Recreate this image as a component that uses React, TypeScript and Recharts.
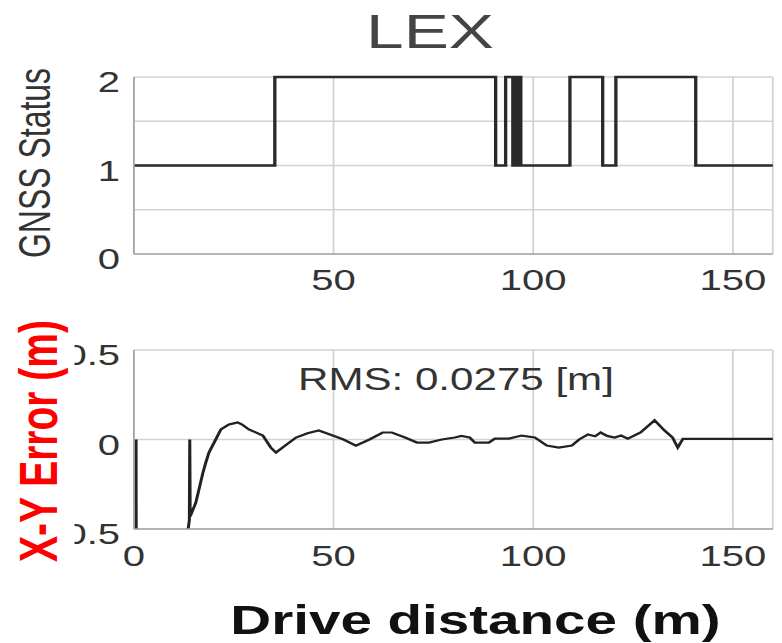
import { LineChart, Line, XAxis, YAxis, CartesianGrid } from 'recharts'

// the source figure is stretched sideways, so the chart is drawn narrow and widened
const SX = 1.38
const W = 567
const FONT = "'Liberation Sans', Arial, sans-serif"

// GNSS status (step changes)
const gnssDist = [0, 35.3, 90.6, 93.1, 94.9, 95.4, 95.9, 96.4, 96.9, 109.2, 117.4, 120.7, 140.7, 160]
const gnssStatus = [1, 2, 1, 2, 1, 2, 1, 2, 1, 2, 1, 2, 1, 1]

// X-Y error along the drive
const errDist = [
  0.55, 0.6, 13.0, 13.9, 14.0, 14.1, 15.5, 16.4, 17.3, 18.0, 18.8, 20.5, 21.8, 23.8, 25.0, 26.0, 27.0,
  28.8, 30.5, 32.3, 34.3, 35.6, 37.5, 40.6, 43.5, 46.3, 49.8, 52.5, 55.6, 59.0, 62.3, 64.6, 67.9, 70.9,
  73.9, 77.1, 80.4, 82.0, 84.1, 85.4, 88.9, 90.4, 93.9, 97.1, 100.4, 103.4, 106.4, 109.7, 111.5, 113.7,
  115.5, 116.9, 118.5, 120.4, 122.0, 123.7, 126.9, 130.4, 132.9, 134.9, 136.2, 137.5, 160,
]
const errValue = [
  0, -0.9, -0.6, -0.45, 0, -0.43, -0.354, -0.27, -0.185, -0.13, -0.073, 0, 0.056, 0.084, 0.09, 0.095,
  0.085, 0.056, 0.04, 0.022, -0.045, -0.073, -0.04, 0.011, 0.035, 0.05, 0.022, 0.0, -0.034, 0.0, 0.039,
  0.039, 0.011, -0.017, -0.017, 0, 0.011, 0.02, 0.011, -0.017, -0.017, 0.005, 0.005, 0.022, 0.011,
  -0.034, -0.045, -0.034, 0.0, 0.028, 0.018, 0.039, 0.02, 0.011, 0.022, 0.005, 0.039, 0.107, 0.05,
  0.011, -0.045, 0.004, 0.004,
]

const gnssTicksY = [0, 0.5, 1, 1.5, 2]
const gnssTicksX = [50, 100, 150]
const errTicksY = [-0.5, 0, 0.5]
const errTicksX = [0, 50, 100, 150]

const gnssData = gnssDist.map((d, i) => ({ d, status: gnssStatus[i] }))
const errData = errDist.map((d, i) => ({ d, err: errValue[i] }))

const GRID = '#d2d2d2'
const AXIS = { stroke: '#a6a6a6', strokeWidth: 1.3 }

const XTick = ({ x, y, payload, shift }: any) => (
  <text x={x} y={y + shift} textAnchor="middle" fontSize={29} fill="#333" fontFamily={FONT}>
    {payload.value}
  </text>
)

const YTick = ({ x, y, payload }: any) => (
  <text x={x - 10} y={y + 15.5} textAnchor="end" fontSize={29} fill="#333" fontFamily={FONT}>
    {payload.value}
  </text>
)

// only whole numbers get a label on the status axis
const GnssYTick = (p: any) => (Number.isInteger(p.payload.value) ? <YTick {...p} /> : null)

export default function App() {
  return (
    <div style={{ position: 'absolute', left: 0, top: 0, width: 782, height: 643, background: '#fff', overflow: 'hidden' }}>
      <div style={{ position: 'absolute', left: 0, top: 0, width: W, height: 643, transform: `scaleX(${SX})`, transformOrigin: '0 0' }}>
        <div style={{ position: 'absolute', left: 0, top: 0 }}>
          <LineChart width={W} height={300} data={gnssData} margin={{ top: 77, right: 7, bottom: 16, left: 0 }}>
            <CartesianGrid stroke={GRID} strokeWidth={1.3} />
            <XAxis dataKey="d" type="number" domain={[0, 160]} ticks={gnssTicksX} height={30}
              axisLine={AXIS} tickLine={false} tickSize={0} tickMargin={0} tick={<XTick shift={36} />} />
            <YAxis type="number" domain={[0, 2]} ticks={gnssTicksY} width={97}
              axisLine={AXIS} tickLine={false} tickSize={0} tickMargin={0} tick={<GnssYTick />} />
            <Line type="stepAfter" dataKey="status" stroke="#2a2a2a" strokeWidth={2.4} dot={false} activeDot={false} isAnimationActive={false} />
          </LineChart>
        </div>
        <div style={{ position: 'absolute', left: 0, top: 300 }}>
          <LineChart width={W} height={343} data={errData} margin={{ top: 50, right: 7, bottom: 84, left: 0 }}>
            <CartesianGrid stroke={GRID} strokeWidth={1.3} />
            <XAxis dataKey="d" type="number" domain={[0, 160]} ticks={errTicksX} height={30}
              axisLine={AXIS} tickLine={false} tickSize={0} tickMargin={0} tick={<XTick shift={37} />} />
            <YAxis type="number" domain={[-0.5, 0.5]} ticks={errTicksY} width={97} allowDataOverflow
              axisLine={AXIS} tickLine={false} tickSize={0} tickMargin={0} tick={<YTick />} />
            <Line type="linear" dataKey="err" stroke="#222" strokeWidth={2.2} dot={false} activeDot={false} isAnimationActive={false} />
          </LineChart>
        </div>
        <svg width={W} height={643} style={{ position: 'absolute', left: 0, top: 0, pointerEvents: 'none' }} fontFamily={FONT}>
          <text x={311.6} y={48} textAnchor="middle" fontSize={49} fill="#444">LEX</text>
          <text transform="translate(36,163) rotate(-90)" textAnchor="middle" fontSize={32} fill="#333">GNSS Status</text>
          <rect x={0} y={300} width={54} height={290} fill="#fff" />
          <text transform="translate(41,441) rotate(-90)" textAnchor="middle" fontSize={39} fontWeight="bold" fill="#ff0000">X-Y Error (m)</text>
          <text x={330.4} y={390} textAnchor="middle" fontSize={30.5} fill="#333">RMS: 0.0275 [m]</text>
          <text x={344.6} y={634} textAnchor="middle" fontSize={41} fontWeight="bold" fill="#111">Drive distance (m)</text>
        </svg>
      </div>
    </div>
  )
}
